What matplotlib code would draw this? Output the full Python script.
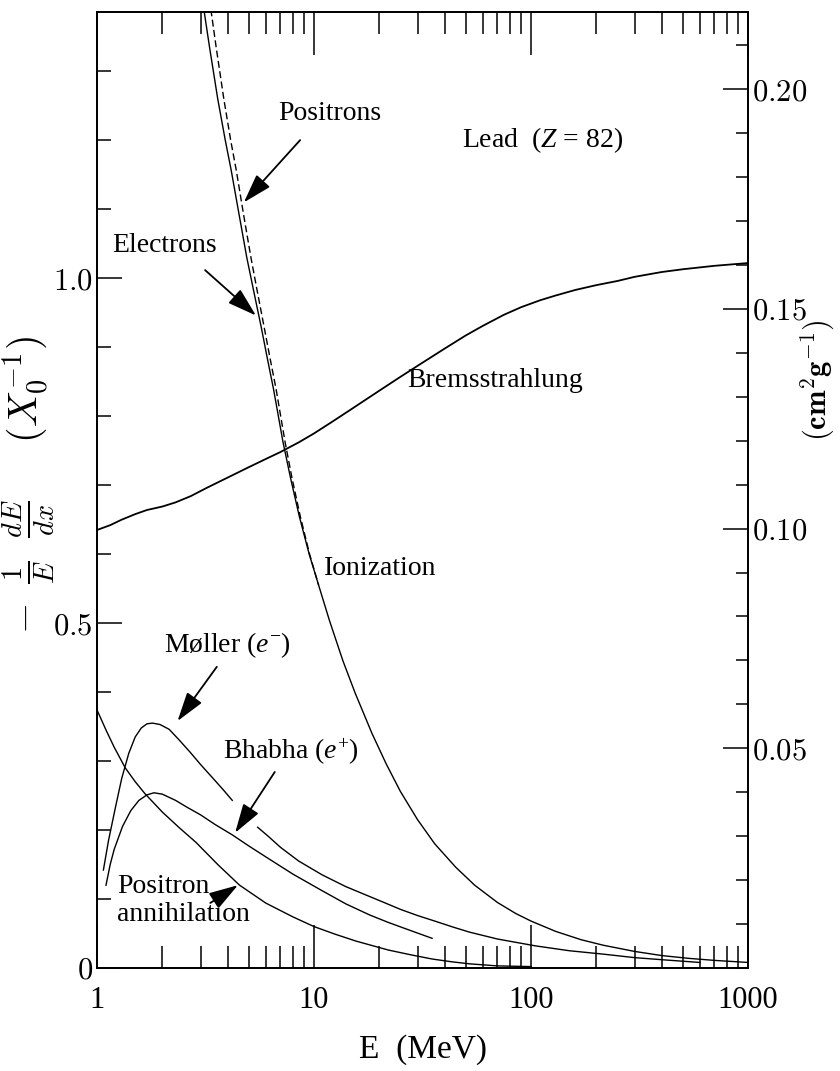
import numpy as np
import matplotlib
matplotlib.use("Agg")
import matplotlib.pyplot as plt
from matplotlib.ticker import FixedLocator, MultipleLocator, NullFormatter

plt.rcParams['font.family'] = ['Liberation Serif', 'DejaVu Serif']
plt.rcParams['mathtext.fontset'] = 'cm'
plt.rcParams['mathtext.rm'] = 'Liberation Serif'
plt.rcParams['mathtext.it'] = 'Liberation Serif:italic'
plt.rcParams['mathtext.bf'] = 'Liberation Serif:bold'

# energy (MeV) and -1/E dE/dx (1/X0)
ion_e_E = [3.0, 3.12, 3.3, 3.6, 3.9, 4.15, 4.5, 4.9, 5.3, 5.72, 6.1, 6.5, 7.2, 7.8, 8.55, 9.5, 10.5,
           11.8, 13.6, 15.5, 18.5, 21.5, 25, 30, 36, 45, 55, 70, 85, 100, 130, 170, 215, 300, 400,
           530, 700, 1000]
ion_e_v = [1.44, 1.386, 1.335, 1.26, 1.2, 1.157, 1.095, 1.03, 0.978, 0.928, 0.883, 0.84, 0.762, 0.71,
           0.655, 0.6, 0.555, 0.503, 0.445, 0.398, 0.34, 0.296, 0.256, 0.215, 0.18, 0.146, 0.12, 0.095,
           0.079, 0.068, 0.053, 0.041, 0.033, 0.024, 0.018, 0.014, 0.011, 0.008]

ion_p_E = [3.23, 3.36, 3.54, 3.84, 4.13, 4.38, 4.72, 5.12, 5.5, 5.9, 6.28, 6.68, 7.36, 7.92, 8.64, 9.54, 10.5]
ion_p_v = [1.44, 1.386, 1.335, 1.26, 1.2, 1.157, 1.095, 1.03, 0.978, 0.928, 0.883, 0.84, 0.762, 0.71,
           0.655, 0.6, 0.555]

brems_E = [1, 1.15, 1.3, 1.5, 1.7, 2.0, 2.3, 2.7, 3.2, 4, 5, 6, 7, 8.5, 10, 12, 15, 20, 25, 30, 40, 50,
           60, 75, 90, 110, 130, 160, 200, 250, 300, 400, 500, 700, 1000]
brems_v = [0.635, 0.642, 0.65, 0.658, 0.664, 0.669, 0.675, 0.684, 0.696, 0.711, 0.726, 0.738, 0.748,
           0.762, 0.775, 0.791, 0.811, 0.837, 0.857, 0.873, 0.898, 0.917, 0.931, 0.947, 0.958, 0.968,
           0.975, 0.983, 0.99, 0.996, 1.002, 1.009, 1.013, 1.018, 1.022]

moller1_E = [1.07, 1.13, 1.22, 1.3, 1.4, 1.5, 1.6, 1.7, 1.8, 1.95, 2.15, 2.4, 2.7, 3.0, 3.4, 3.8, 4.2]
moller1_v = [0.142, 0.185, 0.235, 0.275, 0.311, 0.335, 0.348, 0.354, 0.355, 0.353, 0.346, 0.33, 0.312,
             0.295, 0.276, 0.259, 0.243]
moller2_E = [5.5, 6.2, 7, 8.5, 10.9, 14, 17.6, 21, 25, 30, 36, 44, 52, 70, 105, 150, 216, 300, 400, 600]
moller2_v = [0.204, 0.19, 0.175, 0.155, 0.135, 0.118, 0.105, 0.095, 0.085, 0.076, 0.068, 0.059, 0.052,
             0.042, 0.032, 0.025, 0.02, 0.015, 0.012, 0.008]

bhabha_E = [1.1, 1.15, 1.2, 1.31, 1.43, 1.56, 1.7, 1.83, 2.0, 2.3, 2.6, 3.0, 3.5, 4.2, 5, 6, 8, 10.9,
            14, 18, 22, 28, 35]
bhabha_v = [0.12, 0.15, 0.172, 0.205, 0.228, 0.243, 0.251, 0.254, 0.252, 0.243, 0.233, 0.222, 0.208,
            0.193, 0.177, 0.161, 0.136, 0.112, 0.093, 0.077, 0.066, 0.054, 0.043]

annih_E = [1, 1.1, 1.2, 1.35, 1.5, 1.66, 2.0, 2.4, 2.86, 3.6, 4.54, 6, 8, 10, 12.5, 15.6, 22, 28, 35,
           43, 52, 70, 100]
annih_v = [0.374, 0.345, 0.32, 0.29, 0.27, 0.253, 0.226, 0.203, 0.182, 0.15, 0.12, 0.094, 0.074, 0.06,
           0.049, 0.039, 0.026, 0.019, 0.013, 0.009, 0.006, 0.003, 0.002]

X0 = 6.37  # g/cm^2, lead
left_ticks = [0, 0.5, 1.0]
left_labels = ["$0$", "$0.5$", "$1.0$"]
right_ticks = [0.05, 0.10, 0.15, 0.20]
right_labels = ["$0.05$", "$0.10$", "$0.15$", "$0.20$"]
x_ticks = [1, 10, 100, 1000]
x_labels = ["1", "10", "100", "1000"]

fig = plt.figure(figsize=(8.4, 10.71), dpi=100)
ax = fig.add_axes([0.1155, 0.0962, 0.775, 0.8926])
ymax = 1.386

lw = 1.0
ax.plot(ion_e_E, ion_e_v, color='k', lw=lw)
ax.plot(ion_p_E, ion_p_v, color='k', lw=lw, dashes=(5, 2.5))
ax.plot(brems_E, brems_v, color='k', lw=1.3)
ax.plot(moller1_E, moller1_v, color='k', lw=lw)
ax.plot(moller2_E, moller2_v, color='k', lw=lw)
ax.plot(bhabha_E, bhabha_v, color='k', lw=lw)
ax.plot(annih_E, annih_v, color='k', lw=lw)

ax.set_xscale('log')
ax.set_xlim(1, 1000)
ax.set_ylim(0, ymax)

ax.xaxis.set_major_locator(FixedLocator(x_ticks))
ax.set_xticklabels(x_labels, fontsize=22)
ax.xaxis.set_minor_formatter(NullFormatter())
ax.tick_params(axis='x', which='major', direction='in', length=31, width=1.1, top=True, pad=13)
ax.tick_params(axis='x', which='minor', direction='in', length=16, width=1.1, top=True)

ax.set_yticks(left_ticks)
ax.set_yticklabels(left_labels, fontsize=22)
ax.yaxis.set_minor_locator(MultipleLocator(0.1))
ax.tick_params(axis='y', which='major', direction='in', length=18, width=1.1, pad=3)
ax.tick_params(axis='y', which='minor', direction='in', length=10, width=1.1)

ax2 = ax.twinx()
ax2.set_ylim(0, ymax / X0)
ax2.set_yticks(right_ticks)
ax2.set_yticklabels(right_labels, fontsize=22)
ax2.yaxis.set_minor_locator(MultipleLocator(0.01))
ax2.tick_params(axis='y', which='major', direction='in', length=18, width=1.1, pad=3)
ax2.tick_params(axis='y', which='minor', direction='in', length=9, width=1.1)

for a in (ax, ax2):
    for s in a.spines.values():
        s.set_linewidth(1.3)

ax.set_xlabel("E  (MeV)", fontsize=24, labelpad=14)
ax.set_ylabel(r"$-\;\;\frac{\mathbf{1}}{E}\;\;\frac{dE}{dx}\quad\;\;(X_0^{-1})$", fontsize=29)
ax.yaxis.set_label_coords(-0.062, 0.505)
ax2.set_ylabel(r"$(\mathbf{cm}^{\mathbf{2}}\mathbf{g}^{\mathbf{-1}})$", fontsize=22, rotation=90)
ax2.yaxis.set_label_coords(1.078, 0.615)

fs = 20
arr = dict(arrowstyle='-|>,head_length=0.9,head_width=0.28', color='k', lw=1.3,
           shrinkA=0, shrinkB=0, mutation_scale=20)

ax.text(0.684, 0.866, "Lead  ($Z$ = 82)", transform=ax.transAxes, fontsize=fs, ha='center',
        va='center', math_fontfamily='custom')
ax.text(0.611, 0.615, "Bremsstrahlung", transform=ax.transAxes, fontsize=fs, ha='center', va='center')
ax.text(0.435, 0.418, "Ionization", transform=ax.transAxes, fontsize=fs, ha='center', va='center')

ax.text(0.358, 0.894, "Positrons", transform=ax.transAxes, fontsize=fs, ha='center', va='center')
ax.annotate("", xy=(4.75, 1.11), xycoords='data', xytext=(0.312, 0.866), textcoords='axes fraction',
            arrowprops=arr)

ax.text(0.104, 0.756, "Electrons", transform=ax.transAxes, fontsize=fs, ha='center', va='center')
ax.annotate("", xy=(5.4, 0.946), xycoords='data', xytext=(0.166, 0.730), textcoords='axes fraction',
            arrowprops=arr)

ax.text(0.2, 0.338, "Møller ($e^{-}$)", transform=ax.transAxes, fontsize=fs, ha='center',
        va='center', math_fontfamily='custom')
ax.annotate("", xy=(2.35, 0.358), xycoords='data', xytext=(0.184, 0.315), textcoords='axes fraction',
            arrowprops=arr)

ax.text(0.298, 0.226, "Bhabha ($e^{+}$)", transform=ax.transAxes, fontsize=fs, ha='center',
        va='center', math_fontfamily='custom')
ax.annotate("", xy=(4.33, 0.196), xycoords='data', xytext=(0.273, 0.205), textcoords='axes fraction',
            arrowprops=arr)

ax.text(0.031, 0.071, "Positron\nannihilation", transform=ax.transAxes, fontsize=fs, ha='left',
        va='center', linespacing=1.15)
ax.annotate("", xy=(4.46, 0.12), xycoords='data', xytext=(0.174, 0.068), textcoords='axes fraction',
            arrowprops=arr)

fig.savefig("out.png", dpi=100)
